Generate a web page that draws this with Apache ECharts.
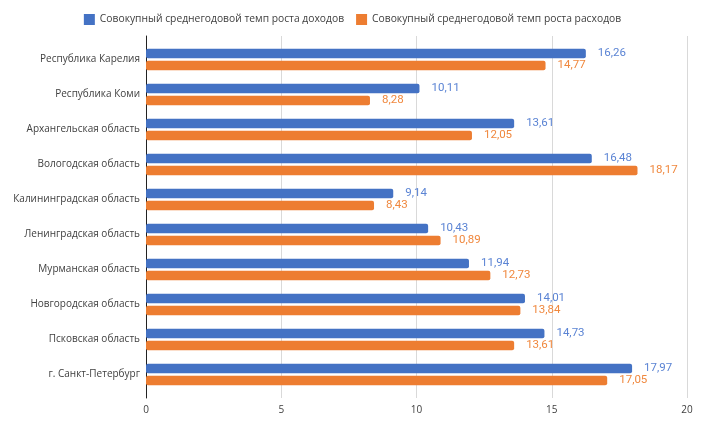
<!DOCTYPE html>
<html><head><meta charset="utf-8">
<script src="https://cdn.jsdelivr.net/npm/echarts@6/dist/echarts.min.js"></script>
<style>html,body{margin:0;padding:0;background:#fff}#c{width:705px;height:431px}</style>
</head><body><div id="c"></div>
<script>
const categories = ["Республика Карелия","Республика Коми","Архангельская область","Вологодская область","Калининградская область","Ленинградская область","Мурманская область","Новгородская область","Псковская область","г. Санкт-Петербург"];
const incomeGrowth = [16.26,10.11,13.61,16.48,9.14,10.43,11.94,14.01,14.73,17.97];
const expenseGrowth = [14.77,8.28,12.05,18.17,8.43,10.89,12.73,13.84,13.61,17.05];
const seriesNames = ["Совокупный среднегодовой темп роста доходов","Совокупный среднегодовой темп роста расходов"];

const chart = echarts.init(document.getElementById('c'));
const fmt = p => p.value.toFixed(2).replace('.', ',');
chart.setOption({
  animation:false,
  textStyle:{fontFamily:'Open Sans'},
  legend:{top:9,left:'center',itemWidth:11,itemHeight:11,itemGap:12,
    icon:'rect',textStyle:{fontSize:10.3,color:'#404040',fontFamily:'Open Sans'}},
  grid:[{left:146,right:18,top:42,bottom:39},{left:146,right:18,top:36,bottom:33}],
  xAxis:[
    {type:'value',gridIndex:0,min:0,max:20,interval:5,show:false,splitLine:{show:false}},
    {type:'value',gridIndex:1,min:0,max:20,interval:5,
     axisLine:{show:false},axisTick:{show:false},
     splitLine:{lineStyle:{color:'#d9d9d9'}},
     axisLabel:{color:'#404040',fontSize:10,margin:7}}
  ],
  yAxis:[
    {type:'category',gridIndex:0,data:categories,inverse:true,
     axisLine:{show:false},axisTick:{show:false},
     axisLabel:{color:'#404040',fontSize:10,margin:6}},
    {type:'value',gridIndex:1,min:0,max:1,
     axisLine:{show:true,lineStyle:{color:'#222'}},axisTick:{show:false},
     axisLabel:{show:false},splitLine:{show:false}}
  ],
  series:[
    {name:seriesNames[0],type:'bar',xAxisIndex:0,yAxisIndex:0,data:incomeGrowth,barWidth:9.5,barGap:'25%',
     itemStyle:{color:'#4472C4',borderRadius:2},
     label:{show:true,position:'right',distance:12,color:'#5b84d4',fontSize:11.5,fontFamily:'Roboto',formatter:fmt}},
    {name:seriesNames[1],type:'bar',xAxisIndex:0,yAxisIndex:0,data:expenseGrowth,barWidth:9.5,
     itemStyle:{color:'#ED7D31',borderRadius:2},
     label:{show:true,position:'right',distance:12,color:'#f0883e',fontSize:11.5,fontFamily:'Roboto',formatter:fmt}}
  ]
});
</script></body></html>
